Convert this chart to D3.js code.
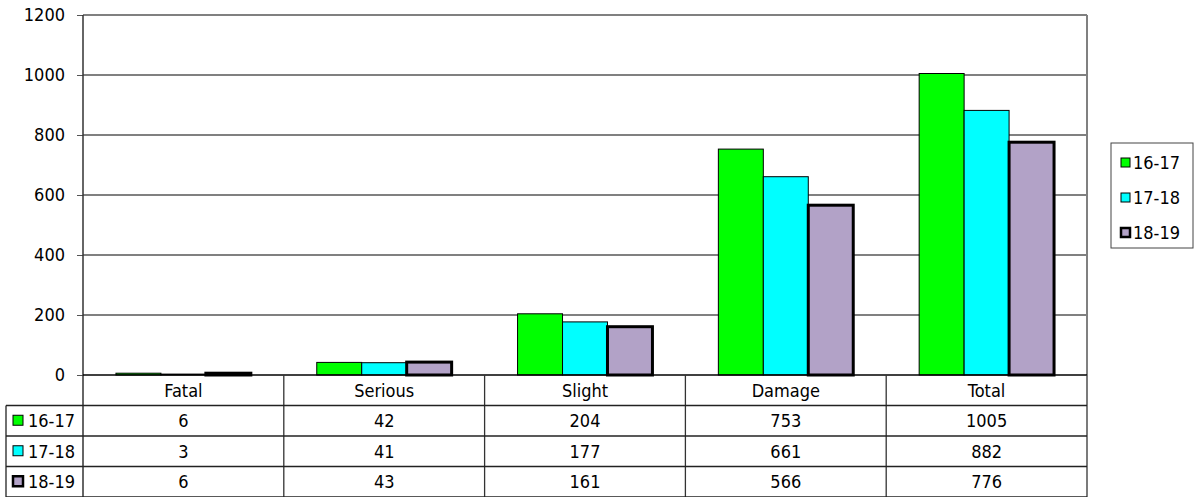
<!DOCTYPE html>
<html>
<head>
<meta charset="utf-8">
<script src="https://cdn.jsdelivr.net/npm/d3@7"></script>
<style>
  html, body { margin: 0; padding: 0; background: #fff; }
  svg { display: block; }
  text { font-family: "DejaVu Sans Condensed", "DejaVu Sans", sans-serif; font-size: 18px; fill: #000; }
</style>
</head>
<body>
<svg id="chart" width="1194" height="497"></svg>
<script>
// Casualty counts per category and reporting year
const categories = ["Fatal", "Serious", "Slight", "Damage", "Total"];
const seriesNames = ["16-17", "17-18", "18-19"];
const values1617 = [6, 42, 204, 753, 1005];
const values1718 = [3, 41, 177, 661, 882];
const values1819 = [6, 43, 161, 566, 776];
const yTicks = [0, 200, 400, 600, 800, 1000, 1200];

const seriesValues = [values1617, values1718, values1819];
const colors = ["#00ff00", "#00ffff", "#b2a2c7"];
const strokeW = [1, 1, 3];

const svg = d3.select("#chart");
const plotLeft = 83, plotRight = 1087, plotTop = 15, plotBottom = 375;
const tableLeft = 6, rowH = 30.5;

const x = d3.scaleBand().domain(categories).range([plotLeft, plotRight]);
const xs = d3.scaleBand().domain(seriesNames).range([0, x.bandwidth()]).paddingOuter(0.733);
const y = d3.scaleLinear().domain([0, 1200]).range([plotBottom, plotTop]);

// gridlines
svg.append("g").selectAll("line").data(yTicks.filter(d => d > 0)).join("line")
  .attr("x1", plotLeft).attr("x2", plotRight)
  .attr("y1", d => y(d)).attr("y2", d => y(d))
  .attr("stroke", "#808080").attr("stroke-width", 2);
// right border of plot area
svg.append("line").attr("x1", plotRight).attr("x2", plotRight).attr("y1", plotTop).attr("y2", plotBottom)
  .attr("stroke", "#808080").attr("stroke-width", 2);

// y axis
const yAxis = svg.append("g").attr("transform", `translate(${plotLeft},0)`)
  .call(d3.axisLeft(y).tickValues(yTicks).tickSize(6).tickPadding(12).tickFormat(d3.format("d")));
yAxis.select(".domain").remove();
yAxis.selectAll(".tick line").attr("stroke", "#555");
yAxis.selectAll(".tick text").attr("font-size", 18).attr("fill", "#000")
  .attr("font-family", "DejaVu Sans Condensed, DejaVu Sans, sans-serif");

// bars
seriesNames.forEach((s, i) => {
  svg.append("g").selectAll("rect").data(categories).join("rect")
    .attr("x", c => x(c) + xs(s))
    .attr("width", xs.bandwidth())
    .attr("y", (c, j) => y(seriesValues[i][j]))
    .attr("height", (c, j) => y(0) - y(seriesValues[i][j]))
    .attr("fill", colors[i])
    .attr("stroke", "#000")
    .attr("stroke-width", strokeW[i]);
});

// axis lines
svg.append("line").attr("x1", plotLeft).attr("x2", plotLeft).attr("y1", plotTop).attr("y2", plotBottom + rowH * 4)
  .attr("stroke", "#333").attr("stroke-width", 1.5);
svg.append("line").attr("x1", plotLeft).attr("x2", plotRight).attr("y1", plotBottom).attr("y2", plotBottom)
  .attr("stroke", "#000").attr("stroke-width", 1.5);

// data table
const tbl = svg.append("g");
const tableBottom = plotBottom + rowH * 4;
// category column dividers
tbl.selectAll("line.v").data(categories).join("line")
  .attr("x1", c => x(c) + x.bandwidth()).attr("x2", c => x(c) + x.bandwidth())
  .attr("y1", plotBottom).attr("y2", tableBottom)
  .attr("stroke", "#333").attr("stroke-width", 1.3);
// horizontal row lines
[1, 2, 3, 4].forEach(r => {
  tbl.append("line").attr("x1", tableLeft).attr("x2", plotRight)
    .attr("y1", plotBottom + rowH * r).attr("y2", plotBottom + rowH * r)
    .attr("stroke", "#222").attr("stroke-width", 1.3);
});
tbl.append("line").attr("x1", tableLeft).attr("x2", tableLeft)
  .attr("y1", plotBottom + rowH).attr("y2", tableBottom)
  .attr("stroke", "#222").attr("stroke-width", 1.3);

// category labels
tbl.selectAll("text.cat").data(categories).join("text")
  .attr("x", c => x(c) + x.bandwidth() / 2).attr("y", plotBottom + rowH / 2)
  .attr("dy", "0.35em").attr("text-anchor", "middle").text(c => c);

// value rows
seriesNames.forEach((s, i) => {
  const cy = plotBottom + rowH * (i + 1) + rowH / 2;
  tbl.append("rect").attr("x", 13).attr("y", cy - 5.5).attr("width", 10).attr("height", 10)
    .attr("fill", colors[i]).attr("stroke", "#000").attr("stroke-width", strokeW[i] === 3 ? 2.5 : 1);
  tbl.append("text").attr("x", 28).attr("y", cy).attr("dy", "0.35em").text(s);
  tbl.selectAll(null).data(categories).join("text")
    .attr("x", c => x(c) + x.bandwidth() / 2).attr("y", cy)
    .attr("dy", "0.35em").attr("text-anchor", "middle")
    .text((c, j) => seriesValues[i][j]);
});

// legend
const lg = svg.append("g");
lg.append("rect").attr("x", 1111).attr("y", 143).attr("width", 82).attr("height", 105)
  .attr("fill", "#fff").attr("stroke", "#444").attr("stroke-width", 1);
seriesNames.forEach((s, i) => {
  const cy = 163 + i * 35;
  lg.append("rect").attr("x", 1121).attr("y", cy - 5).attr("width", 9).attr("height", 9)
    .attr("fill", colors[i]).attr("stroke", "#000").attr("stroke-width", strokeW[i] === 3 ? 2.5 : 1);
  lg.append("text").attr("x", 1133).attr("y", cy).attr("dy", "0.35em").text(s);
});
</script>
</body>
</html>
